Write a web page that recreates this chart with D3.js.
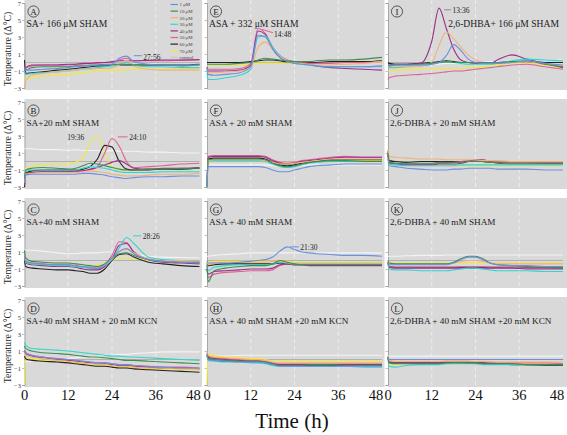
<!DOCTYPE html>
<html><head><meta charset="utf-8">
<script src="https://cdn.jsdelivr.net/npm/d3@7"></script>
<style>body{margin:0;background:#fff}svg{display:block}svg text{font-family:'Liberation Serif','Times New Roman',Times,serif !important}</style>
</head><body>
<svg id="c" width="567" height="435" font-family="'Liberation Serif', serif"></svg>
<script>
// ---------- data ----------
const hours = [0,0.3,2,5,9,12,14,16,18,20,22,24,26,28,30,34,38,43,48];
const seriesNames = ["1 μM","10 μM","20 μM","30 μM","40 μM","50 μM","60 μM","70 μM","control"];
const seriesColors = ["#6d8fe0","#3e8e4e","#f2b27a","#2fd6d0","#9a2f86","#e0609a","#222222","#eeea3a","#f4f4f4"];
const panelLetters = ["A","B","C","D","E","F","G","H","I","J","K","L"];
const panelTitles = ["SA+ 166 μM SHAM","SA+20 mM SHAM","SA+40 mM SHAM","SA+40 mM SHAM + 20 mM KCN",
  "ASA + 332 μM SHAM","ASA + 20 mM SHAM","ASA + 40 mM SHAM","ASA + 40 mM SHAM +20 mM KCN",
  "2,6-DHBA+ 166 μM SHAM","2,6-DHBA + 20 mM SHAM","2,6-DHBA + 40 mM SHAM","2,6-DHBA + 40 mM SHAM +20 mM KCN"];
const yTicks = [-3,-1,1,3,5,7];
const xTicks = [0,12,24,36,48];

// series order: 1,10,20,30,40,50,60,70 µM, control
const panelA = [
 [-0.6,-0.9,-0.9,-0.8,-0.7,-0.6,-0.5,-0.4,-0.4,-0.3,-0.3,-0.2,0.5,0.75,0.1,-0.2,-0.3,-0.3,-0.3],
 [-0.7,-0.9,-0.6,-0.5,-0.5,-0.5,-0.4,-0.4,-0.3,-0.3,-0.2,-0.2,-0.2,-0.2,-0.3,-0.3,-0.3,-0.4,-0.3],
 [-3,-2.2,-1.5,-1.3,-1.1,-1.0,-0.9,-0.8,-0.8,-0.7,-0.7,-0.6,-0.3,0.3,-0.4,-0.8,-0.9,-0.9,-0.9],
 [-1.0,-1.4,-1.3,-1.2,-1.1,-1.0,-0.9,-0.8,-0.7,-0.6,-0.5,-0.4,-0.2,0.0,-0.3,-0.5,-0.5,-0.6,-0.6],
 [-0.8,-0.6,-0.3,-0.3,-0.3,-0.2,-0.2,-0.1,-0.1,0,0,0.1,0.2,0.2,0.2,0.25,0.3,0.3,0.35],
 [-1.0,-0.7,-0.4,-0.3,-0.3,-0.3,-0.2,-0.2,-0.1,-0.1,0,0,0.3,0.5,0.2,0.2,0.2,0.25,0.3],
 [0.3,-1.3,-1.2,-1.1,-0.9,-0.8,-0.7,-0.6,-0.5,-0.4,-0.4,-0.3,-0.3,-0.3,-0.3,-0.3,-0.3,-0.3,-0.2],
 [-1.8,-1.9,-1.8,-1.6,-1.5,-1.4,-1.3,-1.2,-1.1,-1.0,-1.0,-0.9,-0.9,-0.9,-0.8,-0.8,-0.8,-0.8,-0.8],
 [0,0,0,0,0,0,0,0,0,0,0,0,0,0,0,0,0,0,0]
];
const panelB = [
 [-2.5,-1.6,-1.5,-1.5,-1.5,-1.5,-1.5,-1.4,-1.4,-1.5,-1.6,-1.8,-1.9,-2.0,-1.9,-1.8,-1.8,-1.7,-1.7],
 [-2.0,-1.0,-0.8,-0.7,-0.8,-0.9,-0.8,-0.5,-0.2,-0.3,-0.5,-0.7,-0.9,-1.0,-1.0,-0.9,-0.9,-0.8,-0.8],
 [-2.5,-1.5,-1.4,-1.3,-1.3,-1.3,-1.3,-1.2,-1.1,-1.2,-1.3,-1.5,-1.6,-1.7,-1.7,-1.6,-1.5,-1.5,-1.4],
 [-2.5,-1.2,-1.0,-1.0,-1.0,-1.0,-1.0,-0.8,-0.6,-0.7,-0.8,-1.0,-1.2,-1.3,-1.3,-1.3,-1.2,-1.2,-1.2],
 [-2.8,-1.5,-1.3,-1.2,-1.2,-1.2,-1.1,-1.1,-0.9,-0.7,-0.4,-0.1,0.1,-0.3,-0.8,-0.9,-0.8,-0.8,-0.7],
 [-2.8,-1.5,-1.3,-1.2,-1.2,-1.2,-1.2,-1.1,-1.0,-0.6,1.0,2.7,1.8,0.0,-0.7,-0.6,-0.5,-0.3,-0.2],
 [-3,-1.4,-1.1,-1.0,-1.0,-1.0,-1.0,-0.9,-0.6,0.3,1.9,1.7,0.0,-0.9,-1.0,-1.0,-0.9,-0.9,-0.8],
 [-3,-0.8,-0.6,-0.4,-0.3,-0.3,-0.1,0.4,2.2,3.0,1.0,-0.6,-1.0,-1.0,-1.0,-0.9,-0.9,-0.8,-0.8],
 [1.5,1.5,1.5,1.4,1.4,1.3,1.4,1.3,1.3,1.3,1.2,1.3,1.2,1.2,1.2,1.1,1.1,1.0,1.0]
];
const panelC = [
 [0.5,-0.1,-0.3,-0.4,-0.5,-0.5,-0.6,-0.7,-0.8,-0.9,-0.5,0.3,1.1,1.4,0.8,0.1,-0.1,-0.2,-0.3],
 [1.2,0.3,-0.1,-0.2,-0.3,-0.3,-0.4,-0.5,-0.6,-0.7,-0.4,0.3,0.8,0.9,0.6,0.1,-0.1,-0.2,-0.2],
 [0.8,0.1,-0.1,-0.2,-0.3,-0.3,-0.4,-0.5,-0.7,-0.8,-0.5,0.2,1.0,1.3,0.9,0.2,0.0,0.0,-0.1],
 [0.6,-0.2,-0.4,-0.5,-0.6,-0.6,-0.7,-0.8,-0.9,-0.9,-0.6,0.1,1.5,2.7,2.0,0.4,0.1,0.0,-0.1],
 [0.3,-0.3,-0.5,-0.6,-0.7,-0.7,-0.8,-1.0,-1.1,-1.1,-0.7,0.2,1.8,2.0,1.0,0.1,-0.2,-0.3,-0.4],
 [0.5,-0.1,-0.3,-0.4,-0.5,-0.5,-0.6,-0.8,-0.9,-1.0,-0.5,0.6,2.2,2.1,0.9,0.1,-0.1,-0.2,-0.3],
 [0.0,-0.7,-0.9,-1.0,-1.1,-1.1,-1.2,-1.3,-1.5,-1.5,-1.0,0.0,0.7,0.8,0.4,-0.2,-0.4,-0.6,-0.7],
 [0.5,-0.2,-0.3,-0.4,-0.5,-0.5,-0.6,-0.7,-0.7,-0.6,-0.3,0.0,0.3,0.3,0.2,0.0,-0.1,-0.2,-0.2],
 [1.3,1.2,1.2,1.1,0.9,0.8,0.8,0.9,0.9,0.9,1.0,1.0,0.9,0.8,0.7,0.5,0.4,0.35,0.3]
];
const panelD = [
 [1.0,0.8,0.5,0.3,0.1,0.0,-0.1,-0.2,-0.3,-0.4,-0.4,-0.5,-0.6,-0.6,-0.7,-0.8,-0.9,-1.0,-1.0],
 [1.6,1.3,1.0,0.8,0.7,0.6,0.5,0.4,0.3,0.3,0.2,0.1,0.0,-0.1,-0.1,-0.2,-0.3,-0.4,-0.5],
 [0.8,0.5,0.3,0.1,-0.1,-0.2,-0.3,-0.4,-0.5,-0.5,-0.6,-0.7,-0.8,-0.8,-0.9,-1.0,-1.0,-1.1,-1.1],
 [2.0,1.7,1.3,1.2,1.1,1.0,0.9,0.8,0.7,0.6,0.5,0.4,0.4,0.3,0.3,0.2,0.1,0.0,-0.1],
 [1.0,0.7,0.4,0.2,0.0,-0.1,-0.2,-0.3,-0.4,-0.5,-0.5,-0.6,-0.7,-0.7,-0.8,-0.9,-1.0,-1.0,-1.1],
 [1.1,0.8,0.5,0.3,0.1,0.0,-0.1,-0.2,-0.3,-0.4,-0.4,-0.5,-0.6,-0.6,-0.7,-0.8,-0.9,-0.9,-1.0],
 [0.4,0.1,-0.1,-0.2,-0.3,-0.4,-0.5,-0.6,-0.7,-0.8,-0.8,-0.9,-1.0,-1.0,-1.1,-1.2,-1.3,-1.4,-1.5],
 [-3,0.3,0.1,-0.1,-0.2,-0.3,-0.4,-0.5,-0.6,-0.7,-0.7,-0.8,-0.9,-0.9,-1.0,-1.1,-1.1,-1.2,-1.2],
 [-0.3,-0.3,-0.2,-0.1,0.0,0.1,0.2,0.3,0.3,0.4,0.5,0.5,0.6,0.6,0.7,0.8,0.9,0.9,0.9]
];
const panelE = [
 [-0.6,-1.4,-1.5,-1.4,-1.2,-0.5,3.2,3.0,1.6,0.6,0.1,-0.1,-0.2,-0.3,-0.4,-0.5,-0.5,-0.5,-0.4],
 [-0.2,-0.2,-0.2,-0.2,-0.1,0.0,0.3,0.5,0.4,0.3,0.2,0.1,0.1,0.1,0.2,0.3,0.3,0.4,0.6],
 [-0.8,-1.2,-1.2,-1.1,-1.0,-0.6,1.8,2.4,1.6,0.7,0.2,0.0,-0.1,-0.2,-0.3,-0.3,-0.2,-0.1,0.1],
 [-1.2,-2.0,-2.0,-1.8,-1.5,-0.8,3.0,3.1,1.8,0.8,0.2,-0.1,-0.2,-0.3,-0.4,-0.5,-0.5,-0.5,-0.5],
 [-0.6,-1.0,-1.0,-1.0,-0.9,-0.3,3.7,3.3,1.6,0.6,0.2,0.0,-0.1,-0.2,-0.4,-0.6,-0.7,-0.8,-0.9],
 [-0.5,-0.8,-0.8,-0.8,-0.7,-0.1,4.0,3.4,1.8,0.8,0.3,0.1,0.0,-0.1,-0.1,-0.1,0.0,0.0,0.1],
 [0.0,0.0,0.0,0.0,0.0,0.1,0.2,0.3,0.3,0.2,0.1,0.1,0.0,0.0,0.0,0.1,0.1,0.1,0.2],
 [-0.3,-0.3,-0.3,-0.3,-0.3,-0.2,-0.1,-0.1,-0.1,-0.1,-0.1,-0.1,-0.1,-0.1,-0.1,-0.1,0.0,0.0,0.0],
 [0,0,0,0,0,0,0,0,0,0,0,0,0,0,0,0,0,0,0]
];
const panelF = [
 [-3,-0.6,-0.6,-0.6,-0.6,-0.6,-0.6,-0.7,-1.0,-1.2,-1.2,-1.0,-0.8,-0.6,-0.5,-0.4,-0.3,-0.3,-0.3],
 [-3,0.2,0.3,0.3,0.3,0.3,0.3,0.2,-0.2,-0.5,-0.6,-0.5,-0.3,-0.1,0.0,0.1,0.1,0.0,0.0],
 [-3,0.1,0.2,0.2,0.2,0.2,0.2,0.1,-0.1,-0.3,-0.3,-0.2,-0.1,0.0,0.1,0.3,0.3,0.3,0.3],
 [-3,0.0,0.1,0.1,0.1,0.1,0.1,0.0,-0.3,-0.6,-0.7,-0.6,-0.4,-0.2,-0.1,0.0,0.0,0.0,0.0],
 [-3,0.5,0.6,0.6,0.6,0.6,0.6,0.5,0.1,-0.2,-0.3,-0.2,0.0,0.1,0.2,0.4,0.5,0.5,0.5],
 [-3,0.6,0.7,0.7,0.7,0.7,0.7,0.6,0.2,-0.1,-0.2,-0.1,0.1,0.2,0.3,0.5,0.6,0.5,0.5],
 [-3,0.3,0.4,0.4,0.4,0.4,0.4,0.3,-0.1,-0.4,-0.5,-0.4,-0.2,-0.1,0.0,0.2,0.2,0.2,0.2],
 [-3,0.0,0.1,0.1,0.1,0.1,0.1,0.0,-0.1,-0.2,-0.2,-0.1,0.0,0.0,0.1,0.1,0.1,0.1,0.1],
 [-0.4,-0.4,-0.4,-0.4,-0.4,-0.4,-0.4,-0.4,-0.5,-0.6,-0.6,-0.5,-0.5,-0.4,-0.4,-0.4,-0.4,-0.4,-0.4]
];
const panelG = [
 [0,-0.3,-0.3,-0.3,-0.2,-0.1,0.0,0.1,0.4,1.1,1.6,1.3,1.0,0.9,0.8,0.7,0.6,0.6,0.5],
 [-0.5,-2.5,-1.2,-0.9,-0.7,-0.6,-0.6,-0.6,-0.4,0.0,-0.2,-0.4,-0.5,-0.5,-0.5,-0.5,-0.5,-0.5,-0.5],
 [-0.2,-0.5,-0.3,-0.2,-0.2,-0.2,-0.2,-0.2,-0.1,-0.1,-0.2,-0.3,-0.3,-0.3,-0.3,-0.3,-0.3,-0.3,-0.3],
 [-0.5,-1.2,-0.8,-0.6,-0.5,-0.5,-0.5,-0.5,-0.4,-0.2,-0.3,-0.4,-0.4,-0.4,-0.4,-0.4,-0.4,-0.4,-0.4],
 [-1,-1.6,-1.3,-1.2,-1.1,-1.0,-1.0,-1.0,-0.9,-0.5,-0.4,-0.5,-0.5,-0.6,-0.6,-0.6,-0.6,-0.6,-0.6],
 [-1,-2.0,-1.6,-1.4,-1.3,-1.2,-1.2,-1.2,-1.1,-0.6,-0.4,-0.5,-0.5,-0.5,-0.5,-0.5,-0.5,-0.5,-0.5],
 [-0.3,-0.6,-0.5,-0.4,-0.4,-0.4,-0.4,-0.4,-0.4,-0.3,-0.4,-0.5,-0.5,-0.5,-0.5,-0.5,-0.5,-0.5,-0.5],
 [-0.1,-0.2,-0.1,-0.1,-0.1,-0.1,-0.1,-0.1,-0.1,-0.1,-0.1,-0.2,-0.2,-0.2,-0.2,-0.2,-0.2,-0.2,-0.2],
 [0.5,0.5,0.6,0.7,0.8,0.9,0.9,0.9,0.9,0.9,0.9,0.9,0.9,0.9,0.9,0.9,0.9,0.9,0.9]
];
const panelH = [
 [0.5,0.0,-0.1,-0.2,-0.3,-0.3,-0.3,-0.4,-0.6,-0.8,-0.8,-0.8,-0.8,-0.8,-0.8,-0.8,-0.8,-0.8,-0.8],
 [0.6,0.2,0.0,-0.1,-0.2,-0.2,-0.2,-0.3,-0.5,-0.7,-0.7,-0.7,-0.7,-0.6,-0.6,-0.6,-0.7,-0.7,-0.7],
 [0.8,0.5,0.3,0.2,0.1,0.0,0.0,-0.1,-0.3,-0.4,-0.4,-0.4,-0.4,-0.4,-0.4,-0.4,-0.4,-0.4,-0.4],
 [0.4,-0.1,-0.2,-0.3,-0.3,-0.4,-0.4,-0.5,-0.7,-0.8,-0.8,-0.8,-0.8,-0.8,-0.8,-0.8,-0.8,-0.9,-0.9],
 [0.7,0.3,0.1,0.0,-0.1,-0.2,-0.2,-0.3,-0.5,-0.6,-0.6,-0.6,-0.6,-0.6,-0.6,-0.6,-0.6,-0.6,-0.6],
 [0.8,0.4,0.2,0.1,0.0,-0.1,-0.1,-0.2,-0.4,-0.5,-0.5,-0.5,-0.5,-0.5,-0.5,-0.5,-0.5,-0.5,-0.5],
 [0.5,0.1,-0.1,-0.2,-0.2,-0.3,-0.3,-0.4,-0.6,-0.7,-0.7,-0.7,-0.7,-0.7,-0.7,-0.7,-0.7,-0.7,-0.7],
 [-3,0.7,0.4,0.3,0.2,0.1,0.1,0.0,-0.2,-0.2,-0.2,-0.2,-0.2,-0.2,-0.2,-0.2,-0.2,-0.2,-0.2],
 [0.4,0.4,0.4,0.4,0.5,0.5,0.5,0.5,0.5,0.5,0.5,0.5,0.5,0.5,0.5,0.5,0.5,0.5,0.5]
];
const panelI = [
 [-0.3,-0.3,-0.3,-0.3,-0.3,-0.2,0.0,0.8,2.1,1.4,0.4,0.0,-0.1,-0.1,-0.1,0.0,0.2,-0.1,-0.3],
 [-0.4,-0.4,-0.3,-0.3,-0.2,-0.1,0.0,0.1,0.0,0.0,0.0,0.0,0.0,0.0,0.0,0.1,0.2,-0.2,-0.5],
 [-0.5,-0.5,-0.5,-0.5,-0.4,0.0,2.0,3.6,2.8,1.8,0.9,0.3,0.0,-0.1,-0.1,0.0,0.1,-0.2,-0.4],
 [-0.6,-0.6,-0.6,-0.5,-0.4,-0.2,0.0,0.1,0.0,-0.1,-0.2,-0.2,-0.2,-0.2,-0.1,0.2,0.4,0.3,0.2],
 [-0.3,-0.3,-0.2,-0.2,-0.1,2.5,6.4,4.0,1.6,0.3,0.0,-0.1,-0.1,-0.1,0.3,0.9,0.4,-0.1,-0.6],
 [-2.0,-1.8,-1.6,-1.5,-1.4,-1.3,-1.2,-1.1,-1.0,-1.0,-0.9,-0.8,-0.7,-0.6,-0.5,-0.3,-0.2,-0.5,-0.8],
 [0.0,-0.1,-0.2,-0.2,-0.1,0.0,0.1,0.2,0.1,0.0,0.0,0.0,0.0,0.0,0.0,0.1,0.1,0.0,0.0],
 [-1.0,-1.0,-0.9,-0.9,-0.8,-0.8,-0.7,-0.7,-0.7,-0.7,-0.6,-0.6,-0.5,-0.4,-0.3,-0.1,0.0,-0.3,-0.7],
 [-0.4,-0.4,-0.3,-0.3,-0.2,-0.2,-0.2,-0.1,-0.1,-0.1,0.0,0.0,0.0,0.1,0.1,0.2,0.2,0.3,0.3]
];
const panelJ = [
 [0.3,-0.5,-0.6,-0.8,-0.9,-1.0,-1.0,-1.0,-0.9,-0.9,-0.8,-0.8,-0.8,-0.8,-0.9,-0.9,-0.9,-1.0,-1.0],
 [1.0,-0.1,-0.2,-0.2,-0.2,-0.2,-0.1,-0.1,-0.1,-0.1,0.0,0.0,0.0,-0.1,-0.1,-0.2,-0.2,-0.2,-0.2],
 [1.5,0.6,0.5,0.4,0.3,0.3,0.3,0.2,0.2,0.2,0.2,0.2,0.1,0.1,0.1,0.0,0.0,0.0,0.0],
 [0.5,-0.3,-0.4,-0.5,-0.5,-0.5,-0.5,-0.5,-0.5,-0.4,-0.4,-0.4,-0.4,-0.4,-0.4,-0.4,-0.4,-0.4,-0.4],
 [0.8,-0.2,-0.3,-0.4,-0.4,-0.4,-0.3,-0.3,-0.3,-0.2,0.0,0.2,0.2,0.0,-0.2,-0.3,-0.3,-0.3,-0.3],
 [0.8,-0.1,-0.2,-0.3,-0.3,-0.3,-0.2,-0.2,-0.1,0.0,0.1,0.1,0.1,0.0,-0.1,-0.1,-0.1,-0.1,-0.1],
 [1.2,0.1,0.0,-0.1,0.0,0.0,0.0,0.0,0.0,0.0,0.0,0.0,0.0,-0.1,-0.1,-0.1,-0.1,-0.2,-0.2],
 [1.0,0.0,-0.2,-0.3,-0.4,-0.4,-0.4,-0.5,-0.5,-0.5,-0.5,-0.5,-0.5,-0.5,-0.5,-0.5,-0.5,-0.5,-0.5],
 [0,0,0,0,0,0,0,0,0,0,0,0,0,0,0,0,0,0,0]
];
const panelK = [
 [-0.2,-0.5,-0.5,-0.5,-0.5,-0.5,-0.5,-0.5,-0.3,0.1,0.4,0.4,0.1,-0.3,-0.5,-0.6,-0.6,-0.7,-0.7],
 [0.0,-0.3,-0.4,-0.4,-0.4,-0.4,-0.4,-0.4,-0.2,0.2,0.5,0.5,0.2,-0.3,-0.5,-0.6,-0.7,-0.8,-0.9],
 [0.0,-0.4,-0.4,-0.4,-0.4,-0.4,-0.4,-0.4,-0.3,-0.1,0.0,0.0,-0.1,-0.3,-0.4,-0.4,-0.4,-0.4,-0.4],
 [-0.5,-1.0,-1.1,-1.1,-1.2,-1.2,-1.2,-1.2,-1.1,-1.0,-0.9,-0.9,-1.0,-1.1,-1.2,-1.2,-1.2,-1.3,-1.3],
 [-0.3,-0.8,-0.9,-0.9,-0.9,-0.9,-0.9,-0.9,-0.9,-0.9,-0.9,-0.9,-0.9,-0.9,-0.9,-0.9,-1.0,-1.0,-1.0],
 [-0.3,-0.7,-0.8,-0.8,-0.8,-0.8,-0.8,-0.8,-0.8,-0.7,-0.7,-0.7,-0.7,-0.8,-0.8,-0.8,-0.9,-0.9,-0.9],
 [-0.2,-0.7,-0.8,-0.8,-0.8,-0.8,-0.8,-0.8,-0.8,-0.8,-0.8,-0.8,-0.8,-0.8,-0.8,-0.8,-0.8,-0.8,-0.8],
 [-0.1,-0.2,-0.3,-0.3,-0.3,-0.3,-0.3,-0.3,-0.3,-0.3,-0.3,-0.3,-0.3,-0.3,-0.3,-0.3,-0.3,-0.3,-0.3],
 [0.5,0.5,0.5,0.55,0.6,0.6,0.6,0.65,0.65,0.65,0.65,0.65,0.65,0.65,0.65,0.65,0.65,0.65,0.65]
];
const panelL = [
 [0.3,0.0,0.0,0.0,0.0,0.0,0.0,0.0,0.0,0.0,0.0,0.0,0.0,0.0,0.0,0.0,0.0,0.0,0.0],
 [0.2,-0.4,-0.5,-0.5,-0.5,-0.5,-0.5,-0.4,-0.4,-0.4,-0.4,-0.4,-0.5,-0.5,-0.5,-0.5,-0.6,-0.6,-0.6],
 [0.5,-0.1,-0.2,-0.2,-0.2,-0.2,-0.2,-0.2,-0.2,-0.2,-0.2,-0.2,-0.2,-0.3,-0.3,-0.3,-0.3,-0.3,-0.3],
 [0.0,-0.8,-0.9,-0.7,-0.6,-0.6,-0.6,-0.5,-0.5,-0.5,-0.5,-0.5,-0.6,-0.6,-0.6,-0.6,-0.6,-0.6,-0.6],
 [0.3,-0.3,-0.4,-0.4,-0.4,-0.4,-0.4,-0.3,-0.3,-0.3,-0.3,-0.4,-0.4,-0.4,-0.5,-0.5,-0.6,-0.6,-0.6],
 [0.4,-0.2,-0.3,-0.3,-0.3,-0.3,-0.3,-0.2,-0.2,-0.2,-0.2,-0.3,-0.3,-0.3,-0.4,-0.4,-0.4,-0.4,-0.5],
 [0.3,-0.3,-0.4,-0.4,-0.4,-0.4,-0.4,-0.4,-0.3,-0.3,-0.4,-0.4,-0.4,-0.5,-0.5,-0.6,-0.6,-0.7,-0.7],
 [0.3,-0.5,-0.6,-0.5,-0.5,-0.4,-0.4,-0.4,-0.4,-0.4,-0.4,-0.5,-0.5,-0.5,-0.5,-0.5,-0.5,-0.5,-0.5],
 [0.4,0.4,0.4,0.4,0.4,0.4,0.4,0.4,0.4,0.4,0.4,0.4,0.4,0.4,0.4,0.4,0.4,0.4,0.4]
];
const panels = [panelA,panelB,panelC,panelD,panelE,panelF,panelG,panelH,panelI,panelJ,panelK,panelL];

// annotations: panel index, label, series index, connector hours [from,to], level, label hour/level
const annotations = [
 {p:0, text:"27:56", s:0, h1:30, h2:32.2, v:0.8, th:32.6, tv:0.6},
 {p:1, text:"19:36", s:7, h1:null, h2:null, v:null, th:11.7, tv:2.9},
 {p:1, text:"24:10", s:5, h1:25.6, h2:28.3, v:2.9, th:28.7, tv:2.9},
 {p:2, text:"28:26", s:3, h1:29.8, h2:32.0, v:2.9, th:32.4, tv:2.9},
 {p:4, text:"14:48", s:5, h1:15.1, h2:18.1, v:3.9, th:18.4, tv:3.3, v2:3.5},
 {p:6, text:"21:30", s:0, h1:22.8, h2:25.2, v:1.6, th:25.6, tv:1.6},
 {p:8, text:"13:36", s:-1, h1:15.4, h2:17.3, v:6.2, th:17.7, tv:6.2}
];

// ---------- layout ----------
const FONT = "'Liberation Serif', 'Times New Roman', Times, serif";
const svg = d3.select("#c");
const colX = [24.5, 207, 388];
const plotW = 175, plotH = 85;
const rowTop = r => 3 + r * 99;
const drawOrder = [8,7,6,5,4,3,2,1,0];

function txt(sel) { return sel.attr("font-family", FONT).style("font-family", FONT); }

panels.forEach((data, i) => {
  const c = Math.floor(i / 4), r = i % 4;
  const x0 = colX[c], top = rowTop(r);
  const xs = d3.scaleLinear().domain([0, 48]).range([x0, x0 + plotW]);
  const ys = d3.scaleLinear().domain([-3, 7]).range([top + plotH, top]);
  const g = svg.append("g");
  g.append("rect").attr("x", x0).attr("y", top - 3)
    .attr("width", (c === 2 ? 567 - x0 : plotW + 2.5)).attr("height", plotH + 5)
    .attr("fill", "#d9d9d9");
  g.selectAll(".vg").data([12, 24, 36]).enter().append("line")
    .attr("x1", d => xs(d)).attr("x2", d => xs(d)).attr("y1", top - 3).attr("y2", top + plotH + 2)
    .attr("stroke", "#f2f2f2").attr("stroke-width", 0.8).attr("stroke-dasharray", "4,3");
  const ax = d3.axisLeft(ys).tickValues(yTicks).tickSize(2.5).tickFormat(c === 0 ? d3.format("d") : "");
  const axg = g.append("g").attr("transform", `translate(${x0},0)`).call(ax);
  axg.attr("font-family", FONT);
  axg.select(".domain").attr("stroke", "#999").attr("stroke-width", 0.8);
  axg.selectAll(".tick line").attr("stroke", "#999").attr("stroke-width", 0.6);
  txt(axg.selectAll(".tick text")).attr("font-size", 6.5).attr("fill", "#333").attr("x", -3.5);
  const line = d3.line().x((d, k) => xs(hours[k])).y(d => ys(d)).curve(d3.curveMonotoneX);
  g.append("path").attr("d", line(data[8])).attr("fill", "none")
    .attr("stroke", seriesColors[8]).attr("stroke-width", 1.1);
  g.append("line").attr("x1", x0).attr("x2", x0 + plotW).attr("y1", ys(0)).attr("y2", ys(0))
    .attr("stroke", "#a6a6a6").attr("stroke-width", 0.8);
  drawOrder.filter(s => s !== 8).forEach(s => {
    g.append("path").attr("d", line(data[s])).attr("fill", "none")
      .attr("stroke", seriesColors[s]).attr("stroke-width", 1.1).attr("stroke-linejoin", "round");
  });
  g.append("circle").attr("cx", x0 + 9).attr("cy", top + 8.5).attr("r", 5.6)
    .attr("fill", "none").attr("stroke", "#333").attr("stroke-width", 0.8);
  txt(g.append("text")).attr("x", x0 + 9).attr("y", top + 11.6).attr("text-anchor", "middle")
    .attr("font-size", 9).attr("fill", "#222").text(panelLetters[i]);
  const tx = (i === 8) ? xs(16.5) : x0 + 2;
  txt(g.append("text")).attr("x", tx).attr("y", top + 24).attr("font-size", r === 0 ? 9.6 : 9.2)
    .attr("fill", "#222").text(panelTitles[i]);
  if (c === 0) {
    txt(g.append("text")).attr("transform", `translate(10.5,${top + 46}) rotate(-90)`)
      .attr("text-anchor", "middle").attr("font-size", 9.7).attr("fill", "#222")
      .text("Temperature (Δ°C)");
  }
  if (r === 3) {
    txt(g.selectAll(".xl").data(xTicks).enter().append("text"))
      .attr("x", d => xs(d) - (d === 48 ? 6 : 0)).attr("y", 400).attr("text-anchor", "middle")
      .attr("font-size", 14.5).attr("fill", "#111").text(d => d);
  }
  annotations.filter(a => a.p === i).forEach(a => {
    const col = a.s >= 0 ? seriesColors[a.s] : "#8a8a8a";
    if (a.h1 !== null) {
      g.append("line").attr("x1", xs(a.h1)).attr("x2", xs(a.h2))
        .attr("y1", ys(a.v)).attr("y2", ys(a.v2 !== undefined ? a.v2 : a.v))
        .attr("stroke", col).attr("stroke-width", 1);
    }
    txt(g.append("text")).attr("x", xs(a.th)).attr("y", ys(a.tv) + 3).attr("font-size", 7.5)
      .attr("fill", "#222").text(a.text);
  });
  if (i === 0) {
    seriesNames.forEach((n, k) => {
      const yy = top + 1.5 + k * 6.6;
      g.append("line").attr("x1", x0 + 146).attr("x2", x0 + 153.5).attr("y1", yy).attr("y2", yy)
        .attr("stroke", k === 8 ? "#c8c8c8" : seriesColors[k]).attr("stroke-width", 1.2);
      txt(g.append("text")).attr("x", x0 + 155).attr("y", yy + 1.8).attr("font-size", 4.9)
        .attr("fill", "#444").text(n);
    });
  }
});

txt(svg.append("text")).attr("x", 292).attr("y", 428).attr("text-anchor", "middle")
  .attr("font-size", 21).attr("fill", "#111").text("Time (h)");
</script>
</body></html>
